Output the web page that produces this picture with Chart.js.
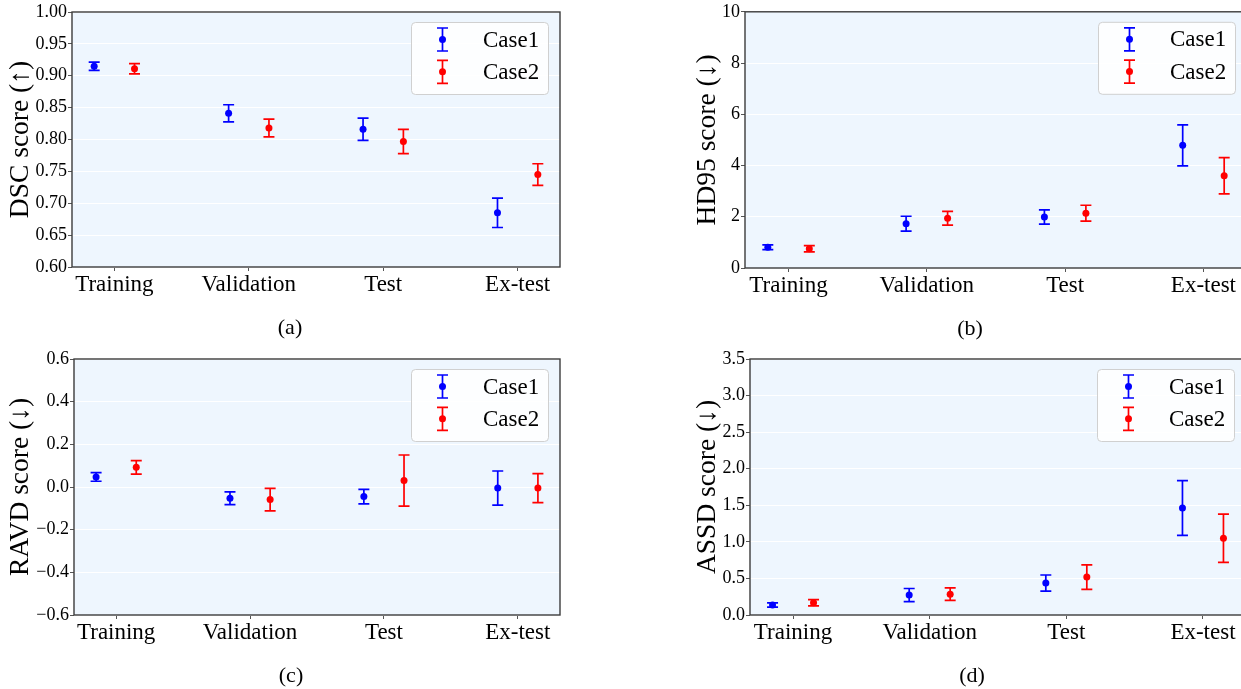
<!DOCTYPE html>
<html>
<head>
<meta charset="utf-8">
<title>Segmentation scores</title>
<script src="https://cdn.jsdelivr.net/npm/chart.js@4.4.0/dist/chart.umd.min.js"></script>
<style>
  html, body { margin: 0; padding: 0; background: #ffffff; overflow: hidden; }
  body { width: 1241px; height: 689px; position: relative; }
  canvas { position: absolute; }
</style>
</head>
<body>
<canvas id="chartA" width="620" height="345" style="left:0px;top:0px"></canvas>
<canvas id="chartB" width="640" height="345" style="left:620px;top:0px"></canvas>
<canvas id="chartC" width="620" height="344" style="left:0px;top:345px"></canvas>
<canvas id="chartD" width="640" height="344" style="left:620px;top:345px"></canvas>
<script>
const groups = ['Training', 'Validation', 'Test', 'Ex-test']
const caseNames = ['Case1', 'Case2']

// (a) DSC, mean and std per group
const dscCase1 = [0.915, 0.841, 0.816, 0.685]
const dscCase1Err = [0.0065, 0.0135, 0.0175, 0.023]
const dscCase2 = [0.911, 0.818, 0.797, 0.745]
const dscCase2Err = [0.008, 0.014, 0.019, 0.017]
const dscTicks = [0.60, 0.65, 0.70, 0.75, 0.80, 0.85, 0.90, 0.95, 1.00]

// (b) HD95
const hdCase1 = [0.81, 1.73, 1.99, 4.79]
const hdCase1Err = [0.09, 0.29, 0.28, 0.80]
const hdCase2 = [0.75, 1.94, 2.14, 3.60]
const hdCase2Err = [0.12, 0.27, 0.31, 0.71]
const hdTicks = [0, 2, 4, 6, 8, 10]

// (c) RAVD
const ravdCase1 = [0.047, -0.053, -0.045, -0.005]
const ravdCase1Err = [0.020, 0.030, 0.034, 0.080]
const ravdCase2 = [0.092, -0.059, 0.030, -0.005]
const ravdCase2Err = [0.032, 0.053, 0.120, 0.068]
const ravdTicks = [-0.6, -0.4, -0.2, 0.0, 0.2, 0.4, 0.6]

// (d) ASSD
const assdCase1 = [0.137, 0.272, 0.437, 1.463]
const assdCase1Err = [0.030, 0.090, 0.110, 0.374]
const assdCase2 = [0.168, 0.285, 0.518, 1.050]
const assdCase2Err = [0.043, 0.085, 0.167, 0.330]
const assdTicks = [0.0, 0.5, 1.0, 1.5, 2.0, 2.5, 3.0, 3.5]

const serif = "'Liberation Serif', 'Times New Roman', 'DejaVu Serif', serif"
const blue = '#0000ff'
const red = '#ff0000'
const plotBg = '#eef6fe'
const spineColor = '#3c3c3c'

function errorSet(label, color, means, errs, shift)
{
    return {
        label: label,
        data: means.map((m, i) => ({ x: i + shift, y: m })),
        errors: errs,
        backgroundColor: color,
        borderColor: color,
        pointRadius: 3.5,
        pointBorderWidth: 0,
        pointHoverRadius: 3.5
    }
}

function drawErrorBar(ctx, x, top, bot, color)
{
    ctx.strokeStyle = color
    ctx.lineWidth = 1.7
    ctx.beginPath()
    ctx.moveTo(x, top); ctx.lineTo(x, bot)
    ctx.moveTo(x - 5.5, top); ctx.lineTo(x + 5.5, top)
    ctx.moveTo(x - 5.5, bot); ctx.lineTo(x + 5.5, bot)
    ctx.stroke()
}

// background, error bars, frame, legend box and the (a)/(b)... caption
const panelDecor = {
    id: 'panelDecor',
    beforeDraw(chart) {
        const a = chart.chartArea, ctx = chart.ctx
        ctx.save()
        ctx.fillStyle = plotBg
        ctx.fillRect(a.left, a.top, a.right - a.left, a.bottom - a.top)
        ctx.restore()
    },
    beforeDatasetsDraw(chart) {
        const ctx = chart.ctx, yScale = chart.scales.y
        chart.data.datasets.forEach((ds, di) => {
            const meta = chart.getDatasetMeta(di)
            ctx.save()
            meta.data.forEach((pt, i) => {
                const v = ds.data[i].y, e = ds.errors[i]
                drawErrorBar(ctx, pt.x, yScale.getPixelForValue(v + e), yScale.getPixelForValue(v - e), ds.borderColor)
            })
            ctx.restore()
        })
    },
    afterDraw(chart, args, opts) {
        const a = chart.chartArea, ctx = chart.ctx
        ctx.save()

        // frame
        ctx.strokeStyle = spineColor
        ctx.lineWidth = 1.4
        ctx.strokeRect(a.left, a.top, a.right - a.left, a.bottom - a.top)

        // legend
        const bw = 137, bh = 72
        const bx = a.right - 12 - bw, by = a.top + 10
        ctx.beginPath()
        if (ctx.roundRect) ctx.roundRect(bx + 0.5, by + 0.5, bw, bh, 4)
        else ctx.rect(bx + 0.5, by + 0.5, bw, bh)
        ctx.fillStyle = 'rgba(255,255,255,0.85)'
        ctx.fill()
        ctx.strokeStyle = '#d0d0d0'
        ctx.lineWidth = 1
        ctx.stroke()

        chart.data.datasets.forEach((ds, j) => {
            const cy = by + 17.5 + j * 32.3
            const ix = bx + 31.5
            drawErrorBar(ctx, ix, cy - 11.5, cy + 11.5, ds.borderColor)
            ctx.fillStyle = ds.borderColor
            ctx.beginPath()
            ctx.arc(ix, cy, 3.5, 0, Math.PI * 2)
            ctx.fill()
            ctx.fillStyle = '#000000'
            ctx.font = '23px ' + serif
            ctx.textBaseline = 'middle'
            ctx.textAlign = 'left'
            ctx.fillText(ds.label, bx + 72, cy + 1)
        })

        // caption under the panel
        ctx.fillStyle = '#000000'
        ctx.font = '22px ' + serif
        ctx.textAlign = 'center'
        ctx.textBaseline = 'middle'
        ctx.fillText(opts.caption, (a.left + a.right) / 2 - 26, a.bottom + 61)
        ctx.restore()
    }
}

function makePanel(id, p)
{
    const ctx = document.getElementById(id).getContext('2d')
    return new Chart(ctx, {
        type: 'scatter',
        data: {
            datasets: [
                errorSet(caseNames[0], blue, p.case1, p.case1Err, -0.15),
                errorSet(caseNames[1], red, p.case2, p.case2Err, 0.15)
            ]
        },
        options: {
            responsive: false,
            animation: false,
            events: [],
            layout: { padding: { left: 0, right: p.padRight, top: p.padTop, bottom: 0 } },
            scales: {
                x: {
                    type: 'linear',
                    min: -0.315,
                    max: 3.315,
                    afterBuildTicks: s => { s.ticks = groups.map((g, i) => ({ value: i })) },
                    ticks: {
                        callback: v => groups[v],
                        font: { family: serif, size: 23 },
                        color: '#000000',
                        padding: 0,
                        maxRotation: 0,
                        autoSkip: false
                    },
                    grid: { drawOnChartArea: false, tickLength: 4, tickColor: '#555555', tickWidth: 1 },
                    border: { display: false },
                    afterFit: s => { s.height = p.xHeight }
                },
                y: {
                    type: 'linear',
                    min: p.ticks[0],
                    max: p.ticks[p.ticks.length - 1],
                    afterBuildTicks: s => { s.ticks = p.ticks.map(v => ({ value: v })) },
                    ticks: {
                        callback: p.fmt,
                        font: { family: serif, size: 18 },
                        color: '#000000',
                        padding: 1
                    },
                    grid: { color: '#ffffff', lineWidth: 1, tickLength: 4, tickColor: '#555555', tickWidth: 1 },
                    border: { display: false },
                    title: {
                        display: true,
                        text: p.title,
                        color: '#000000',
                        font: { family: serif, size: 27.5 },
                        padding: { top: p.titlePad, bottom: 0 }
                    },
                    afterFit: s => { s.width = p.yWidth }
                }
            },
            plugins: {
                legend: { display: false },
                tooltip: { enabled: false },
                panelDecor: { caption: p.caption }
            }
        },
        plugins: [panelDecor]
    })
}

const minus = v => (v < 0 ? '\u2212' : '') + Math.abs(v).toFixed(1)

makePanel('chartA', {
    case1: dscCase1, case1Err: dscCase1Err, case2: dscCase2, case2Err: dscCase2Err,
    ticks: dscTicks, fmt: v => v.toFixed(2), title: 'DSC score (\u2191)', caption: '(a)',
    yWidth: 72, padRight: 60, padTop: 12, xHeight: 78, titlePad: 4
})

makePanel('chartB', {
    case1: hdCase1, case1Err: hdCase1Err, case2: hdCase2, case2Err: hdCase2Err,
    ticks: hdTicks, fmt: v => String(v), title: 'HD95 score (\u2193)', caption: '(b)',
    yWidth: 125, padRight: 13, padTop: 11, xHeight: 77, titlePad: 71
})

makePanel('chartC', {
    case1: ravdCase1, case1Err: ravdCase1Err, case2: ravdCase2, case2Err: ravdCase2Err,
    ticks: ravdTicks, fmt: minus, title: 'RAVD score (\u2193)', caption: '(c)',
    yWidth: 74, padRight: 60, padTop: 14, xHeight: 74, titlePad: 4
})

makePanel('chartD', {
    case1: assdCase1, case1Err: assdCase1Err, case2: assdCase2, case2Err: assdCase2Err,
    ticks: assdTicks, fmt: v => v.toFixed(1), title: 'ASSD score (\u2193)', caption: '(d)',
    yWidth: 130, padRight: 14, padTop: 14, xHeight: 74, titlePad: 71
})
</script>
</body>
</html>
